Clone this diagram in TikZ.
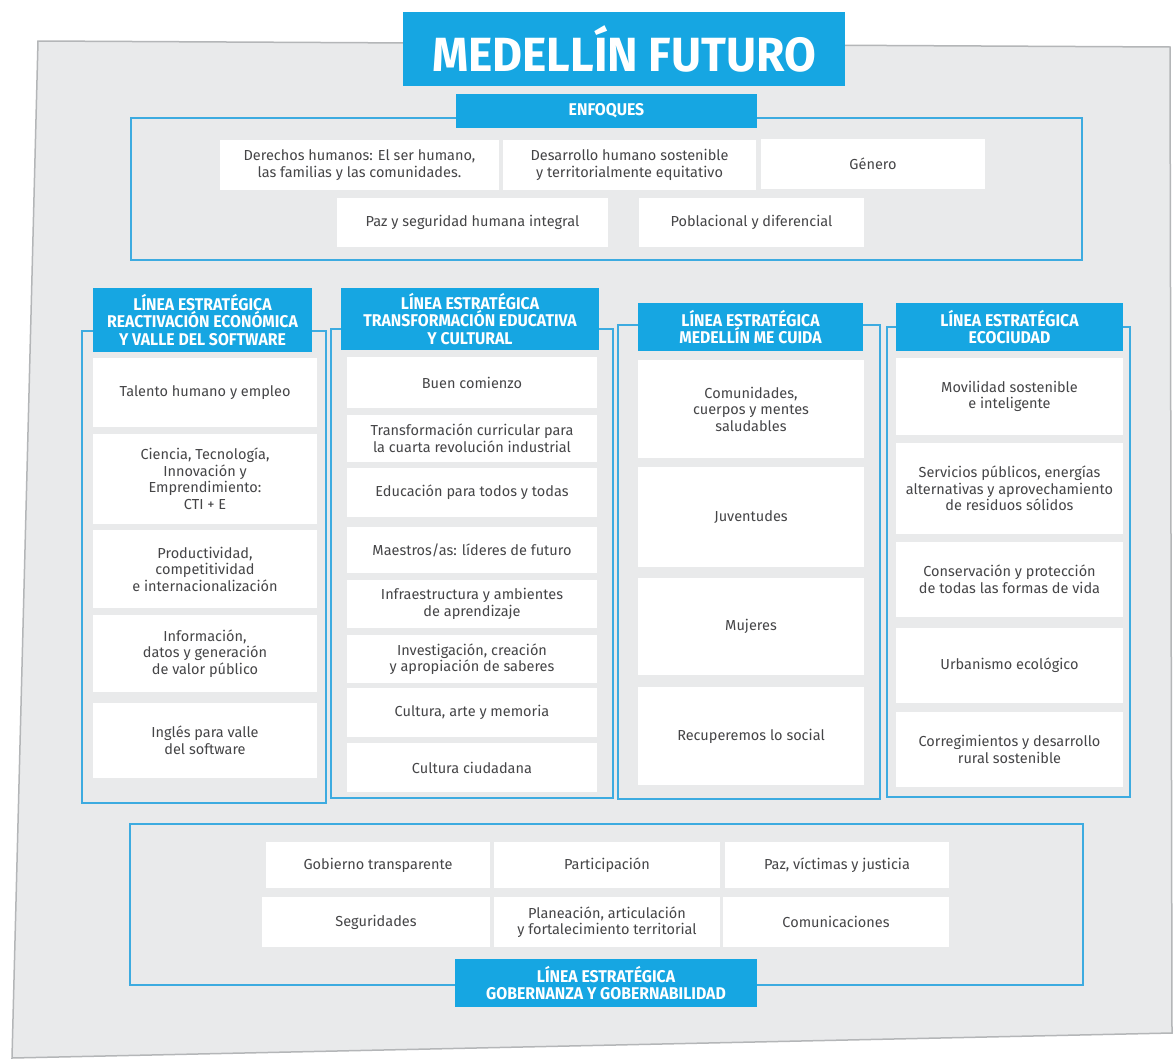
\documentclass[tikz,border=0pt]{standalone}
\usepackage{fontspec}
\setmainfont{Fira Sans}
\newfontfamily\barfont{Fira Sans}[FakeStretch=0.93]
\newfontfamily\titlefont{Fira Sans}[FakeStretch=0.96]
\usetikzlibrary{fit}

\tikzset{
    card/.style={fill=white, inner sep=0pt, align=center, text=textGrey,
        font=\fontsize{14.5}{16.5}\selectfont},
    bar/.style={fill=barBlue, inner sep=0pt, align=center, text=white,
        font=\barfont\bfseries\fontsize{17}{17.5}\selectfont},
    marco/.style={draw=lineBlue, line width=2.2pt, inner sep=0pt},
    % box from its corners x1, y1, x2, y2
    corners/.style n args={4}{minimum width=#3pt-#1pt, minimum height=#4pt-#2pt,
        at={({(#1+#3)/2},{(#2+#4)/2})}},
}

\begin{document}
\begin{tikzpicture}[x=1pt, y=-1pt]
    % Define colours
    \definecolor{barBlue}{HTML}{16A6E2}
    \definecolor{lineBlue}{HTML}{3DABE0}
    \definecolor{sheetGrey}{HTML}{E9EAEB}
    \definecolor{edgeGrey}{HTML}{B4B6B8}
    \definecolor{textGrey}{HTML}{454547}

    \useasboundingbox (0,0) rectangle (1173,1063);
    \fill[white] (0,0) rectangle (1173,1063);

    % Draw sheet
    \filldraw[fill=sheetGrey, draw=edgeGrey, line width=1.5pt]
        (38,41) -- (1170,47) -- (1172,1033) -- (12,1058) -- cycle;

    % Draw frames
    \node[marco, fit={(131,118) (1082,260)}] (enfoques) {};
    \node[marco, fit={(82,331) (326,803)}] (reactivacion) {};
    \node[marco, fit={(331,329) (613,798)}] (educativa) {};
    \node[marco, fit={(618,325) (880,799)}] (cuida) {};
    \node[marco, fit={(887,327) (1130,797)}] (ecociudad) {};
    \node[marco, fit={(130,824) (1083,985)}] (gobernanza) {};

    % Draw title and headers
    \foreach \n/\xa/\ya/\xb/\yb/\t in {
        enfoquesBar/456/94/757/128/{ENFOQUES},
        reactivacionBar/93/288/312/352/{LÍNEA ESTRATÉGICA\\REACTIVACIÓN ECONÓMICA\\Y VALLE DEL SOFTWARE},
        educativaBar/341/288/599/350/{LÍNEA ESTRATÉGICA\\TRANSFORMACIÓN EDUCATIVA\\Y CULTURAL},
        cuidaBar/638/303/863/351/{LÍNEA ESTRATÉGICA\\MEDELLÍN ME CUIDA},
        ecociudadBar/896/303/1123/351/{LÍNEA ESTRATÉGICA\\ECOCIUDAD},
        gobernanzaBar/455/959/757/1007/{LÍNEA ESTRATÉGICA\\GOBERNANZA Y GOBERNABILIDAD}}
        \node[bar, corners={\xa}{\ya}{\xb}{\yb}] (\n) {\t};
    \node[bar, font=\titlefont\bfseries\fontsize{48}{48}\selectfont,
        corners={403}{12}{845}{86}] (titulo) {MEDELLÍN FUTURO};

    % Enfoques cards
    \foreach \n/\xa/\ya/\xb/\yb/\t in {
        derechos/220/140/499/190/{Derechos humanos: El ser humano,\\las familias y las comunidades.},
        desarrollo/503/140/756/190/{Desarrollo humano sostenible\\y territorialmente equitativo},
        genero/761/139/985/189/{Género},
        paz/337/198/608/247/{Paz y seguridad humana integral},
        poblacional/639/198/864/247/{Poblacional y diferencial}}
        \node[card, corners={\xa}{\ya}{\xb}{\yb}] (\n) {\t};

    % Reactivacion economica cards
    \foreach \n/\ya/\yb/\t in {
        talento/358/427/{Talento humano y empleo},
        ciencia/434/524/{Ciencia, Tecnología,\\Innovación y\\Emprendimiento:\\CTI + E},
        productividad/530/608/{Productividad,\\competitividad\\e internacionalización},
        informacion/615/692/{Información,\\datos y generación\\de valor público},
        ingles/703/778/{Inglés para valle\\del software}}
        \node[card, corners={93}{\ya}{317}{\yb}] (\n) {\t};

    % Transformacion educativa cards
    \foreach \n/\ya/\yb/\t in {
        comienzo/357/408/{Buen comienzo},
        curricular/415/462/{Transformación curricular para\\la cuarta revolución industrial},
        todos/468/517/{Educación para todos y todas},
        maestros/527/573/{Maestros/as: líderes de futuro},
        infraestructura/580/628/{Infraestructura y ambientes\\de aprendizaje},
        investigacion/635/683/{Investigación, creación\\y apropiación de saberes},
        cultura/688/737/{Cultura, arte y memoria},
        ciudadana/743/792/{Cultura ciudadana}}
        \node[card, corners={347}{\ya}{597}{\yb}] (\n) {\t};

    % Medellin me cuida cards
    \foreach \n/\ya/\yb/\t in {
        comunidades/360/458/{Comunidades,\\cuerpos y mentes\\saludables},
        juventudes/467/567/{Juventudes},
        mujeres/578/675/{Mujeres},
        social/687/785/{Recuperemos lo social}}
        \node[card, corners={638}{\ya}{864}{\yb}] (\n) {\t};

    % Ecociudad cards
    \foreach \n/\ya/\yb/\t in {
        movilidad/358/435/{Movilidad sostenible\\e inteligente},
        servicios/443/534/{Servicios públicos, energías\\alternativas y aprovechamiento\\de residuos sólidos},
        conservacion/542/617/{Conservación y protección\\de todas las formas de vida},
        urbanismo/628/703/{Urbanismo ecológico},
        corregimientos/712/787/{Corregimientos y desarrollo\\rural sostenible}}
        \node[card, corners={896}{\ya}{1123}{\yb}] (\n) {\t};

    % Gobernanza cards
    \foreach \n/\xa/\ya/\xb/\yb/\t in {
        transparente/266/842/490/888/{Gobierno transparente},
        participacion/494/842/720/888/{Participación},
        victimas/725/842/949/888/{Paz, víctimas y justicia},
        seguridades/262/897/490/947/{Seguridades},
        planeacion/494/897/720/947/{Planeación, articulación\\y fortalecimiento territorial},
        comunicaciones/723/897/949/947/{Comunicaciones}}
        \node[card, corners={\xa}{\ya}{\xb}{\yb}] (\n) {\t};

\end{tikzpicture}
\end{document}
